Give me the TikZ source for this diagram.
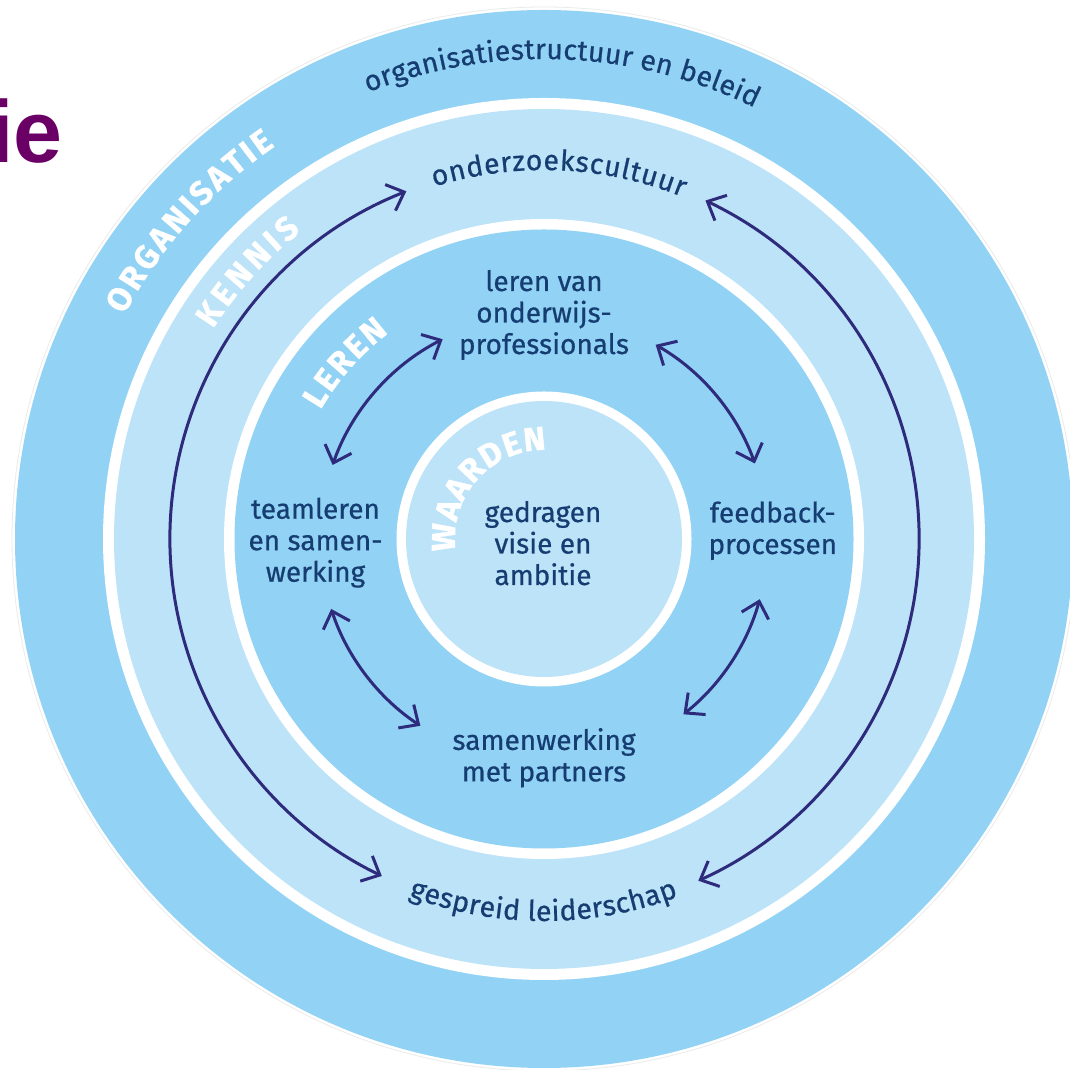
\documentclass[tikz,border=0pt]{standalone}
\usepackage{fontspec}
\setmainfont{Fira Sans}
\newfontfamily\medfont[FakeBold=0.6]{Fira Sans}
\newfontfamily\heavyfam[FakeBold=1.2]{Fira Sans}
\newfontfamily\titlefont{Liberation Sans}
\usetikzlibrary{decorations.text, arrows.meta}
\definecolor{ringmid}{HTML}{92D3F5}
\definecolor{ringlight}{HTML}{BDE3F8}
\definecolor{navy}{HTML}{163D72}
\definecolor{arrowc}{HTML}{2E2B7C}
\definecolor{purp}{HTML}{6A0066}
\newcommand{\curvefont}{\medfont\fontsize{28.5}{30}\selectfont\color{navy}}
\newcommand{\capsfont}{\heavyfam\bfseries\fontsize{33}{33}\selectfont\color{white}}
\begin{document}
\begin{tikzpicture}[x=1pt,y=1pt,
  lbl/.style={align=center, text=navy, font=\medfont\fontsize{28}{31.5}\selectfont, inner sep=0pt, anchor=base},
  cyc/.style={draw=arrowc, line width=3pt, {Straight Barb[length=15pt,width=28pt]}-{Straight Barb[length=15pt,width=28pt]}},
  curved/.style={decorate, decoration={text along path, text align=fit to path, text={#1}}}
]
\useasboundingbox (0,0) rectangle (1069,1070);
\fill[white] (0,0) rectangle (1069,1070);
\coordinate (C) at (544,531);
% rings
\draw[black!8, line width=0.8pt] (C) circle (532);
\fill[ringmid] (C) circle (529);
\fill[white] (C) circle (441);
\fill[ringlight] (C) circle (430);
\fill[white] (C) circle (320);
\fill[ringmid] (C) circle (309.5);
\fill[white] (C) circle (147.5);
\fill[ringlight] (C) circle (138);

% title fragment
\node[font=\titlefont\bfseries\fontsize{88}{88}\selectfont, text=purp, anchor=base east, inner sep=0pt] (title) at (63,907) {ie};

% curved texts
\path[curved={|\curvefont|organisatiestructuur en beleid}] ([shift={(111.5:480)}]C) arc[start angle=111.5, end angle=64, radius=480];
\path[curved={|\curvefont|onderzoekscultuur}] ([shift={(107.3:369)}]C) arc[start angle=107.3, end angle=68, radius=369];
\path[curved={|\curvefont|gespreid leiderschap}] ([shift={(249.2:382)}]C) arc[start angle=249.2, end angle=290.6, radius=382];

% ring labels
\path[curved={|\capsfont|ORGANISATIE}] ([shift={(151.9:476)}]C) arc[start angle=151.9, end angle=124.4, radius=476];
\path[curved={|\capsfont|KENNIS}] ([shift={(147.6:392)}]C) arc[start angle=147.6, end angle=128.3, radius=392];
\path[curved={|\capsfont|LEREN}] ([shift={(150:258)}]C) arc[start angle=150, end angle=127, radius=258];
\path[curved={|\capsfont|WAARDEN}] ([shift={(188:89)}]C) arc[start angle=188, end angle=88.5, radius=89];

% text nodes (base = last line)
\node[lbl] (leren) at (544,716) {leren van\\onderwijs-\\professionals};
\node[lbl] (visie) at (543,485) {gedragen\\visie en\\ambitie};
\node[lbl] (team) at (315.5,488.3) {teamleren\\en samen-\\werking};
\node[lbl] (feedback) at (772.8,516) {feedback-\\processen};
\node[lbl] (samen) at (544,288.6) {samenwerking\\met partners};

% arrow end points
\coordinate (kL1) at ([shift={(111.6:374)}]C);
\coordinate (kR1) at ([shift={(64.5:375)}]C);
\coordinate (aUL) at ([shift={(116.9:224)}]C);
\coordinate (aUR) at ([shift={(60.1:224)}]C);
\coordinate (aLL) at ([shift={(198.2:224)}]C);
\coordinate (aLR) at ([shift={(-15.6:224)}]C);

\draw[cyc] (kL1) arc[start angle=111.6, end angle=244.3, radius=374];
\draw[cyc] (kR1) arc[start angle=64.5, end angle=-65.7, radius=375];
\draw[cyc] (aUL) arc[start angle=116.9, end angle=160.7, radius=224];
\draw[cyc] (aUR) arc[start angle=60.1, end angle=19.7, radius=224];
\draw[cyc] (aLL) arc[start angle=198.2, end angle=236.5, radius=224];
\draw[cyc] (aLR) arc[start angle=-15.6, end angle=-51.5, radius=224];
\end{tikzpicture}
\end{document}
